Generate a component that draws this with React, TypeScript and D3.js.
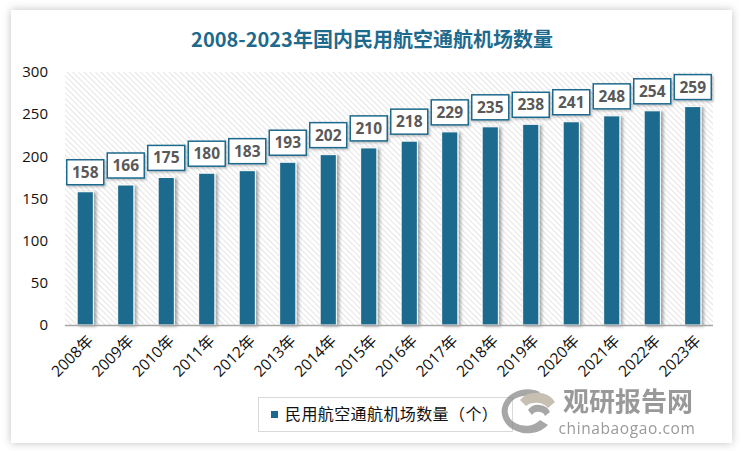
import React from "react";
import * as d3 from "d3";

const categories = ["2008年","2009年","2010年","2011年","2012年","2013年","2014年","2015年","2016年","2017年","2018年","2019年","2020年","2021年","2022年","2023年"];
const values = [158,166,175,180,183,193,202,210,218,229,235,238,241,248,254,259];
const yTicks = [0,50,100,150,200,250,300];
const title = "2008-2023年国内民用航空通航机场数量";
const legendLabel = "民用航空通航机场数量（个）";

const W = 742, H = 451;
const plot = { left: 65, right: 713, top: 72, bottom: 325 };
const barColor = "#1b6a8d";

export default function App() {
  const x = d3.scaleBand<string>().domain(categories).range([plot.left, plot.right]).paddingInner(0.6).paddingOuter(0.3);
  const y = d3.scaleLinear().domain([0, 300]).range([plot.bottom, plot.top]);
  const font = "'Open Sans', 'Noto Sans CJK SC', sans-serif";
  const cjk = "'Noto Sans CJK SC', sans-serif";
  return (
    <svg width={W} height={H} style={{ position: "absolute", left: 0, top: 0 }}>
      <defs>
        <pattern id="hatch" width="4" height="4" patternUnits="userSpaceOnUse" patternTransform="rotate(-45)">
          <rect width="4" height="4" fill="#ffffff" />
          <line x1="0" y1="0" x2="0" y2="4" stroke="#d4d4d4" strokeWidth="1.2" />
        </pattern>
        <filter id="panelShadow" x="-5%" y="-5%" width="110%" height="110%">
          <feDropShadow dx="0" dy="0" stdDeviation="4" floodColor="#000" floodOpacity="0.25" />
        </filter>
        <filter id="barShadow" x="-50%" y="-10%" width="200%" height="120%">
          <feDropShadow dx="2.5" dy="1" stdDeviation="1.5" floodColor="#000" floodOpacity="0.35" />
        </filter>
        <filter id="boxShadow" x="-20%" y="-20%" width="140%" height="150%">
          <feDropShadow dx="1.5" dy="1.5" stdDeviation="1.2" floodColor="#000" floodOpacity="0.25" />
        </filter>
      </defs>
      <rect x={0} y={0} width={W} height={H} fill="#ffffff" />
      <rect x={11} y={10} width={721} height={433} fill="#ffffff" filter="url(#panelShadow)" />
      <text x={372} y={47} textAnchor="middle" fontFamily={cjk} fontWeight="bold" fontSize={20} fill="#1e6a8d">{title}</text>

      <rect x={plot.left} y={plot.top} width={plot.right - plot.left} height={plot.bottom - plot.top} fill="url(#hatch)" />

      {yTicks.map(t => (
        <text key={t} x={48} y={y(t)} dy="0.35em" textAnchor="end" fontFamily={font} fontSize={15} fill="#111">{t}</text>
      ))}

      {categories.map((c, i) => {
        const bx = x(c)!;
        const bw = x.bandwidth();
        const by = y(values[i]);
        const cx = bx + bw / 2;
        return (
          <g key={c}>
            <rect x={bx} y={by} width={bw} height={plot.bottom - by} fill={barColor} stroke="#ffffff" strokeWidth={1} filter="url(#barShadow)" />
            <rect x={cx - 18.5} y={by - 32} width={37} height={25} fill="#ffffff" stroke="#1e6a8d" strokeWidth={1.5} filter="url(#boxShadow)" />
            <text x={cx} y={by - 19.5} dy="0.36em" textAnchor="middle" fontFamily={font} fontWeight="bold" fontSize={15.5} fill="#595959">{values[i]}</text>
            <text transform={`translate(${cx + 5},${plot.bottom + 13}) rotate(-45)`} textAnchor="end" dy="0.35em" fontFamily={font} fontSize={15.5} fill="#111">{c}</text>
          </g>
        );
      })}
      <line x1={plot.left} x2={plot.right} y1={plot.bottom + 0.5} y2={plot.bottom + 0.5} stroke="#a6a6a6" strokeWidth={1.5} />

      <rect x={258.5} y={397.5} width={254} height={34} fill="#ffffff" stroke="#d9d9d9" strokeWidth={1} />
      <rect x={271} y={411} width={7} height={7} fill={barColor} />
      <text x={285} y={414.5} dy="0.36em" fontFamily={cjk} fontSize={16} letterSpacing={0.4} fill="#111">{legendLabel}</text>

      <g opacity={0.75}>
        <path d="M 540 392 A 26 22 0 1 0 548 425 L 540 420 A 18 15 0 1 1 535 398 Z" fill="#8a8a8a" />
        <path d="M 520 400 A 20 16 0 0 1 555 402 L 548 408 A 14 11 0 0 0 526 406 Z" fill="#b5aa98" />
        <path d="M 528 410 A 12 10 0 0 1 550 412 L 545 416 A 7 6 0 0 0 532 415 Z" fill="#8a8a8a" />
        <text x={628} y={411} textAnchor="middle" fontFamily={cjk} fontWeight="bold" fontSize={26} fill="#777">观研报告网</text>
        <text x={627} y={434} textAnchor="middle" fontFamily={font} fontSize={15.5} letterSpacing={0.6} fill="#777">chinabaogao.com</text>
      </g>
    </svg>
  );
}
